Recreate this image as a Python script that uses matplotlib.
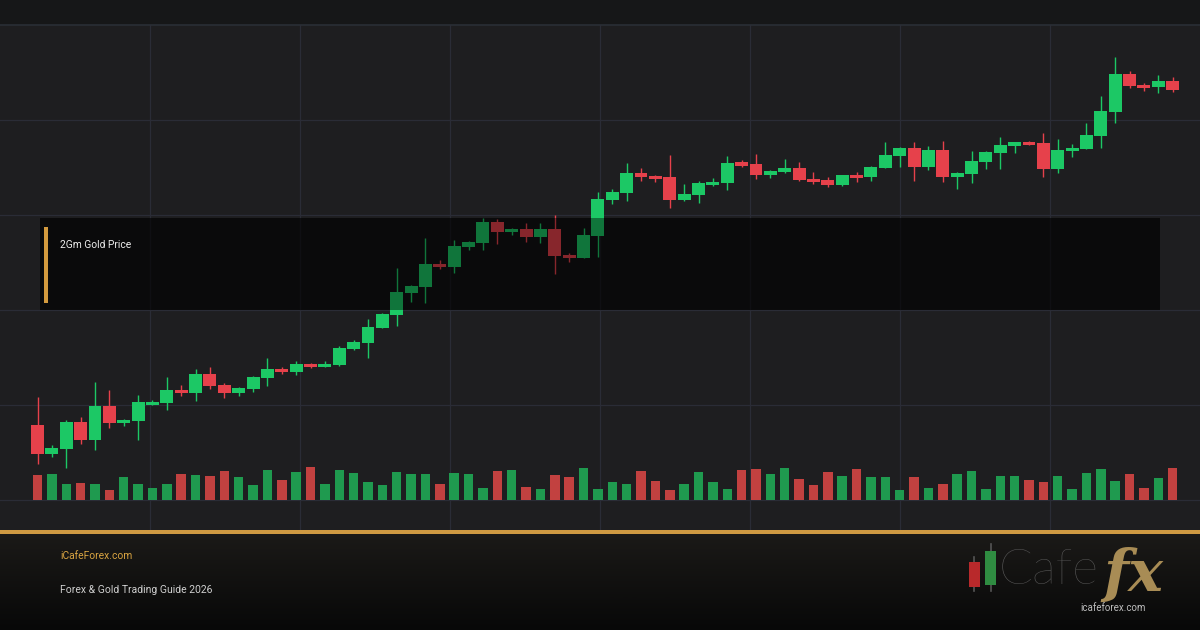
import numpy as np
import matplotlib
matplotlib.use("Agg")
import matplotlib.pyplot as plt
from matplotlib.patches import Rectangle
from matplotlib.colors import LinearSegmentedColormap

# 2Gm gold price, daily candles
opens = [1150, 1093, 1103, 1157, 1121, 1188, 1155, 1159, 1190, 1195,
         1220, 1214, 1252, 1231, 1214, 1222, 1244, 1262, 1256, 1272,
         1267, 1270, 1302, 1315, 1345, 1370, 1414, 1426, 1472, 1467,
         1507, 1515, 1556, 1536, 1542, 1526, 1542, 1490, 1485, 1529,
         1600, 1614, 1654, 1648, 1646, 1600, 1610, 1630, 1634, 1676,
         1672, 1650, 1656, 1664, 1642, 1640, 1630, 1650, 1646, 1665,
         1689, 1704, 1667, 1700, 1647, 1653, 1677, 1695, 1709, 1716,
         1714, 1663, 1699, 1703, 1729, 1777, 1852, 1830, 1826, 1838]
highs = [1206, 1110, 1160, 1166, 1236, 1220, 1162, 1211, 1200, 1246,
         1230, 1262, 1266, 1234, 1226, 1248, 1284, 1266, 1278, 1274,
         1278, 1309, 1321, 1362, 1375, 1464, 1431, 1524, 1480, 1520,
         1519, 1564, 1562, 1545, 1554, 1555, 1570, 1494, 1544, 1616,
         1622, 1674, 1664, 1650, 1690, 1632, 1638, 1644, 1688, 1680,
         1692, 1660, 1682, 1676, 1656, 1646, 1651, 1656, 1668, 1716,
         1706, 1716, 1708, 1718, 1657, 1698, 1698, 1726, 1716, 1718,
         1734, 1722, 1712, 1754, 1808, 1886, 1858, 1834, 1850, 1846]
lows = [1073, 1087, 1065, 1113, 1101, 1145, 1149, 1121, 1190, 1181,
        1209, 1198, 1222, 1204, 1208, 1216, 1228, 1252, 1250, 1265,
        1266, 1269, 1301, 1285, 1344, 1348, 1396, 1395, 1463, 1455,
        1500, 1500, 1513, 1530, 1516, 1514, 1452, 1476, 1484, 1486,
        1592, 1598, 1638, 1636, 1584, 1599, 1594, 1628, 1620, 1667,
        1642, 1644, 1654, 1638, 1632, 1626, 1629, 1636, 1638, 1664,
        1667, 1639, 1661, 1637, 1623, 1635, 1663, 1663, 1695, 1710,
        1647, 1655, 1687, 1702, 1705, 1755, 1825, 1819, 1815, 1817]
closes = [1093, 1105, 1157, 1121, 1188, 1155, 1160, 1196, 1196, 1220,
          1214, 1252, 1228, 1214, 1224, 1246, 1262, 1256, 1272, 1266,
          1273, 1304, 1317, 1347, 1373, 1417, 1429, 1473, 1467, 1509,
          1516, 1556, 1536, 1543, 1526, 1542, 1488, 1484, 1530, 1602,
          1616, 1654, 1646, 1642, 1600, 1612, 1634, 1636, 1674, 1668,
          1650, 1658, 1664, 1640, 1636, 1630, 1650, 1644, 1666, 1690,
          1704, 1667, 1700, 1647, 1655, 1678, 1696, 1710, 1716, 1710,
          1663, 1700, 1704, 1730, 1778, 1852, 1828, 1825, 1838, 1821]
volumes = [2500, 2600, 1600, 1700, 1600, 1000, 2300, 1600, 1200, 1600,
           2600, 2500, 2400, 2900, 2300, 1500, 3000, 2000, 2800, 3300,
           1600, 3000, 2700, 1800, 1500, 2800, 2600, 2600, 1600, 2700,
           2600, 1200, 2900, 3000, 1300, 1100, 2500, 2300, 3200, 1100,
           1800, 1600, 2900, 1900, 1000, 1600, 2800, 1800, 1100, 3000,
           3100, 2600, 3200, 2100, 1500, 2800, 2400, 3100, 2300, 2300,
           1000, 2300, 1200, 1600, 2600, 2900, 1100, 2400, 2400, 2000,
           1800, 2400, 1100, 2700, 3100, 1900, 2600, 1200, 2200, 3200]

title = "2Gm Gold Price"
site = "iCafeForex.com"
subtitle = "Forex & Gold Trading Guide 2026"

BG = "#1e1e20"
TOP_BG = "#161718"
GRID = "#2a2c36"
UP = "#1cc865"
DOWN = "#e6414b"
VOL_UP = "#1f9a4f"
VOL_DOWN = "#c24140"
GOLD = "#d39a3e"

W, H = 1200, 630
fig = plt.figure(figsize=(12, 6.3), dpi=100, facecolor=TOP_BG)


def fx(px):
    return px / W


def fy(py):
    # pixel row (from top) -> figure fraction
    return 1 - py / H


# footer with dark gradient
fax = fig.add_axes([0, 0, 1, fy(534)])
grad = np.linspace(0, 1, 200).reshape(-1, 1)
cmap = LinearSegmentedColormap.from_list("foot", ["#1b1a18", "#080808"])
fax.imshow(grad, aspect="auto", cmap=cmap, extent=[0, 1, 0, 1])
fax.axis("off")

# price panel
ax = fig.add_axes([0, fy(530), 1, fy(25) - fy(530)])
ax.set_facecolor(BG)
n = len(opens)
idx = np.arange(n)
ax.set_xlim(-2.61, 80.9)
ax.set_ylim(940, 1950)

x0, x1 = ax.get_xlim()
ax.set_xticks(x0 + np.arange(1, 8) * (x1 - x0) / 8)
ax.set_yticks([1000, 1190, 1380, 1570, 1760])
ax.grid(True, color=GRID, linewidth=0.9)
ax.set_axisbelow(True)
ax.tick_params(length=0, labelbottom=False, labelleft=False)
for s in ["left", "right", "bottom"]:
    ax.spines[s].set_visible(False)
ax.spines["top"].set_color("#2a2e35")
ax.spines["top"].set_linewidth(1.2)

o = np.array(opens)
c = np.array(closes)
up = c >= o
cols = np.where(up, UP, DOWN)

ax.vlines(idx, lows, highs, colors=cols, linewidth=1.0, zorder=3)
body_lo = np.minimum(o, c)
body_h = np.maximum(np.abs(c - o), 1.5)
ax.bar(idx, body_h, bottom=body_lo, width=0.9, color=cols, linewidth=0, zorder=4)

# volume on its own scale at the bottom of the panel
vax = ax.twinx()
vax.set_ylim(-3000, 47500)
vax.bar(idx, volumes, width=0.66, color=np.where(up, VOL_UP, VOL_DOWN), linewidth=0)
vax.axis("off")

# label box over the chart (darkens background underneath and marks on top)
ax.add_patch(Rectangle((fx(40), fy(310)), fx(1120), fy(218) - fy(310),
                       transform=fig.transFigure, facecolor="#000000", alpha=0.38,
                       linewidth=0, zorder=2, clip_on=False))
fig.add_artist(Rectangle((fx(40), fy(310)), fx(1120), fy(218) - fy(310),
                         transform=fig.transFigure, facecolor="#000000", alpha=0.41,
                         linewidth=0, zorder=5))
fig.add_artist(Rectangle((fx(44), fy(303)), fx(3.5), fy(227) - fy(303),
                         transform=fig.transFigure, facecolor=GOLD, linewidth=0, zorder=6))
fig.text(fx(60), fy(245), title, color="#ededed", fontsize=7.4, family="Roboto",
         va="center", ha="left", zorder=7)

# gold separator
fig.add_artist(Rectangle((0, fy(534)), 1, fy(530) - fy(534), transform=fig.transFigure,
                         facecolor="#cf9a42", linewidth=0, zorder=6))

# footer text
fig.text(fx(60), fy(556), site, color="#d9a441", fontsize=7.4, family="Roboto",
         va="center", ha="left")
fig.text(fx(60), fy(590), subtitle, color="#cfcfcf", fontsize=7.5, family="Roboto",
         va="center", ha="left")

# logo
fig.add_artist(plt.Line2D([fx(974), fx(974)], [fy(591), fy(557)],
                          transform=fig.transFigure, color="#555555", lw=1.2, zorder=6))
fig.add_artist(Rectangle((fx(968.5), fy(587)), fx(11), fy(562) - fy(587),
                         transform=fig.transFigure, facecolor="#b8292b", linewidth=0, zorder=7))
fig.add_artist(plt.Line2D([fx(990.5), fx(990.5)], [fy(591), fy(544)],
                          transform=fig.transFigure, color="#555555", lw=1.2, zorder=6))
fig.add_artist(Rectangle((fx(985), fy(585)), fx(11.5), fy(551) - fy(585),
                         transform=fig.transFigure, facecolor="#2f8c41", linewidth=0, zorder=7))
fig.text(fx(999), fy(571), "Cafe", color="#5c5c5c", fontsize=36, family="Lato",
         fontweight="light", va="center", ha="left")
fig.text(fx(1103), fy(575), "fx", color="#a88c55", fontsize=42, family="DejaVu Serif",
         style="italic", fontweight="bold", va="center", ha="left")
fig.text(fx(1080), fy(608), "icafeforex.com", color="#bdbdbd", fontsize=7, family="Roboto",
         va="center", ha="left")

fig.savefig("out.png", dpi=100, facecolor=fig.get_facecolor())
